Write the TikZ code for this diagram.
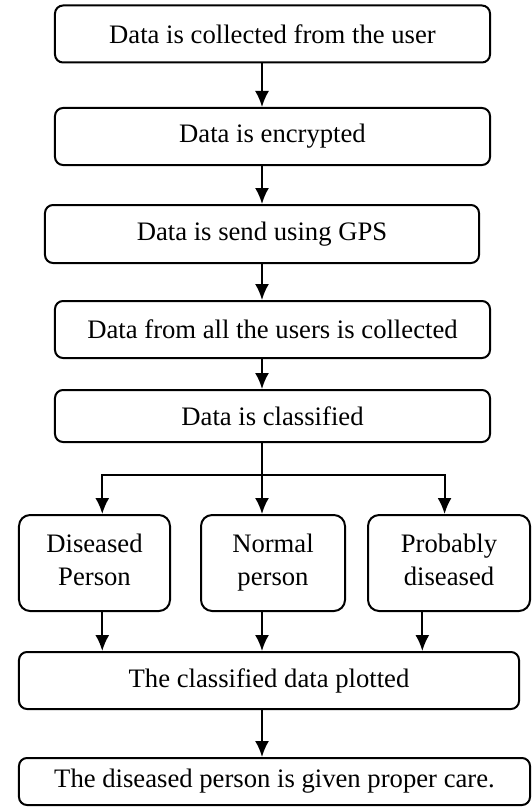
\documentclass[tikz,border=0pt]{standalone}
\usepackage{fontspec}
\setmainfont{Liberation Serif}
\usetikzlibrary{positioning,calc,arrows.meta}

\begin{document}
\begin{tikzpicture}[
      x=0.45pt, y=-0.45pt, % <-- ONE UNIT = ONE PIXEL OF THE LAYOUT
      line width=0.9pt,
      every node/.style={font=\fontsize{12pt}{14.5pt}\selectfont},
      process/.style={draw, rounded corners=3.6pt, align=center, inner sep=2pt, minimum width=195.75pt, minimum height=25.65pt},
      outcome/.style={draw, rounded corners=5pt, align=center, inner sep=2pt, text depth=3pt, minimum height=43.2pt},
      >={Latex[length=7.2pt,width=6.3pt]}
    ]
    \useasboundingbox (0,0) rectangle (532,807);

    % Main steps, top to bottom
    \node[process] (collect) at (272.5,34) {Data is collected from the user};
    \node[process] (encrypt) at (272.5,136.5) {Data is encrypted};
    \node[process, minimum width=195.3pt, minimum height=26.1pt] (send) at (262,234) {Data is send using GPS};
    \node[process] (gather) at (272.5,329.5) {Data from all the users is collected};
    \node[process, minimum height=23.4pt] (classify) at (272.5,416) {Data is classified};

    % The three classes
    \node[outcome, minimum width=67.95pt] (diseased) at (94.5,563) {Diseased\\Person};
    \node[outcome, minimum width=64.8pt] (normal) at (273,563) {Normal\\person};
    \node[outcome, minimum width=72.9pt] (probable) at (449,563) {Probably\\diseased};

    \node[process, minimum width=225pt] (plot) at (269,680.5) {The classified data plotted};
    \node[process, minimum width=229.95pt, minimum height=21.15pt] (care) at (274.5,781.5) {The diseased person is given proper care.};

    % Arrows
    \draw[->] (collect.south -| send) -- (encrypt.north -| send);
    \draw[->] (encrypt.south -| send) -- (send.north);
    \draw[->] (send.south) -- (gather.north -| send);
    \draw[->] (gather.south -| send) -- (classify.north -| send);

    \coordinate (split) at (262,475);
    \draw (classify.south -| split) -- (split);
    \draw[->] (split) -| ([xshift=3.5]diseased.north);
    \draw[->] (split) -- (normal.north -| split);
    \draw[->] (split) -| ([xshift=-2]probable.north);

    \draw[->] ([xshift=3.5]diseased.south) -- ([xshift=3.5]diseased.south |- plot.north);
    \draw[->] (normal.south -| split) -- (plot.north -| split);
    \draw[->] ([xshift=-12]probable.south) -- ([xshift=-12]probable.south |- plot.north);
    \draw[->] (plot.south -| split) -- (care.north -| split);

  \end{tikzpicture}
\end{document}
